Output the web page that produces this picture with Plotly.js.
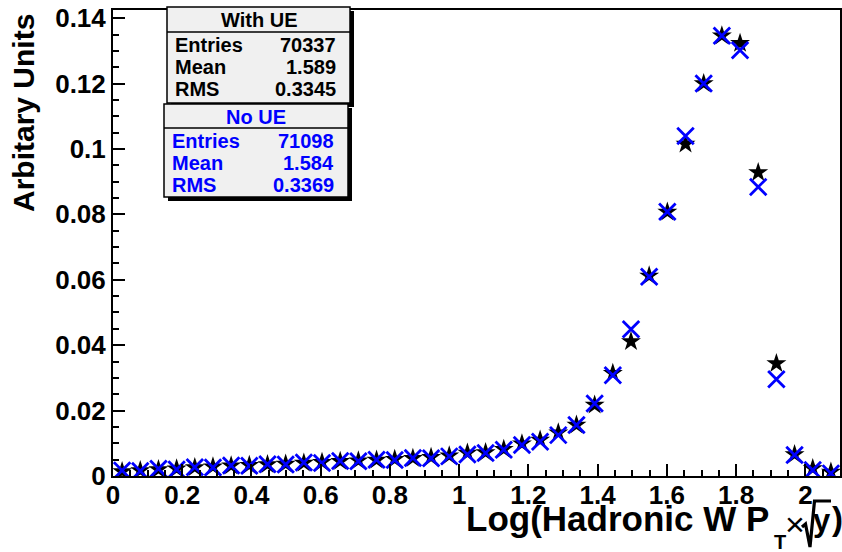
<!DOCTYPE html>
<html>
<head>
<meta charset="utf-8">
<script src="https://cdn.plot.ly/plotly-3.0.1.min.js"></script>
<style>html,body{margin:0;padding:0;background:#fff;}#plot{width:842px;height:552px;}</style>
</head>
<body>
<div id="plot"></div>
<script>
// Histogram binning: 40 bins on [0, 2.1]
const nBins = 40;
const xMin = 0, xMax = 2.1;
const binCenters = [];
for (let i = 0; i < nBins; i++) binCenters.push(xMin + (i + 0.5) * (xMax - xMin) / nBins);

// "With UE" (black stars)
const withUE = [0.0014, 0.0017, 0.0020, 0.0022, 0.0026, 0.0028, 0.0031, 0.0033, 0.0035, 0.0037,
                0.0040, 0.0042, 0.0045, 0.0047, 0.0049, 0.0051, 0.0054, 0.0057, 0.0062, 0.0070,
                0.0072, 0.0082, 0.0099, 0.0110, 0.0132, 0.0156, 0.0217, 0.0314, 0.0411, 0.0612,
                0.0807, 0.1015, 0.1200, 0.1346, 0.1323, 0.0928, 0.0344, 0.0066, 0.0023, 0.0012];
// "No UE" (blue crosses)
const noUE = [0.0017, 0.0015, 0.0022, 0.0020, 0.0027, 0.0026, 0.0032, 0.0031, 0.0036, 0.0035,
              0.0041, 0.0040, 0.0046, 0.0045, 0.0050, 0.0049, 0.0055, 0.0054, 0.0060, 0.0066,
              0.0070, 0.0080, 0.0095, 0.0105, 0.0125, 0.0156, 0.0222, 0.0308, 0.0449, 0.0609,
              0.0808, 0.1040, 0.1200, 0.1346, 0.1302, 0.0884, 0.0296, 0.0064, 0.0018, 0.0008];

// Stats boxes
const statNames = ['Entries', 'Mean', 'RMS'];
const statsWithUE = ['70337', '1.589', '0.3345'];
const statsNoUE = ['71098', '1.584', '0.3369'];

const FONT = 'Liberation Sans, Arial, Helvetica, sans-serif';
const L = 113, R = 2, T = 10, B = 76, W = 842 - L - R, H = 552 - T - B;
const P = px => (px - L) / W;
const Q = py => (T + H - py) / H;

const traces = [
  {x: binCenters, y: withUE, type: 'scatter', mode: 'markers', name: 'With UE',
   marker: {symbol: 'star', size: 15, color: '#000000', line: {width: 0}}},
  {x: binCenters, y: noUE, type: 'scatter', mode: 'markers', name: 'No UE',
   marker: {symbol: 'x-thin-open', size: 16.5, color: '#0000ff', line: {width: 2.8, color: '#0000ff'}}}
];

const shapes = [];
const annotations = [];
function txt(x, y, text, size, color, xanchor, weight, extra) {
  annotations.push(Object.assign({xref: 'paper', yref: 'paper', x: P(x), y: Q(y), text: text, showarrow: false,
    xanchor: xanchor, yanchor: 'middle', borderpad: 0,
    font: {family: FONT, size: size, color: color, weight: weight}}, extra || {}));
}
function statBox(x0, x1, yTop, ySep, yBot, title, values, color, rowYs) {
  shapes.push({type: 'rect', xref: 'paper', yref: 'paper', x0: P(x0 + 4), x1: P(x1 + 4), y0: Q(yBot + 4), y1: Q(yTop + 4),
               fillcolor: '#000000', line: {width: 0}});
  shapes.push({type: 'rect', xref: 'paper', yref: 'paper', x0: P(x0), x1: P(x1), y0: Q(yBot), y1: Q(yTop),
               fillcolor: '#f0f0f0', line: {width: 1.5, color: '#000000'}});
  shapes.push({type: 'line', xref: 'paper', yref: 'paper', x0: P(x0), x1: P(x1), y0: Q(ySep), y1: Q(ySep),
               line: {width: 1.5, color: '#000000'}});
  txt((x0 + x1) / 2, (yTop + ySep) / 2 + 0.5, title, 20, color, 'center', 'bold');
  statNames.forEach((n, i) => {
    txt(x0 + 7, rowYs[i], n, 20, color, 'left', 'bold');
    txt(x1 - 13, rowYs[i], values[i], 20, color, 'right', 'bold');
  });
}
statBox(167, 350, 7, 32, 103, 'With UE', statsWithUE, '#000000', [45, 67, 89]);
statBox(164, 348, 104, 128, 197, 'No UE', statsNoUE, '#0000ff', [141, 163, 185]);

// x-axis title built from pieces: Log(Hadronic W P_T x sqrt(y))
txt(770, 518, 'Log(Hadronic W P', 35, '#000000', 'right', 'bold');
txt(780, 542, 'T', 20, '#000000', 'center', 'bold');
txt(795, 524, '×', 34, '#000000', 'center', 'normal');
txt(822, 520, 'y', 31, '#000000', 'center', 'bold');
txt(837, 518, ')', 33, '#000000', 'center', 'bold');
shapes.push({type: 'path', xref: 'paper', yref: 'paper',
  path: 'M' + P(802) + ',' + Q(527) + ' L' + P(805.5) + ',' + Q(524) + ' L' + P(810) + ',' + Q(547) +
        ' L' + P(814.5) + ',' + Q(501) + ' L' + P(831) + ',' + Q(501),
  line: {width: 3.2, color: '#000000'}, fillcolor: 'rgba(0,0,0,0)'});

// y-axis title
annotations.push({xref: 'paper', yref: 'paper', x: P(23), y: Q(13), xanchor: 'center', yanchor: 'top',
  textangle: -90, showarrow: false, text: 'Arbitary Units', borderpad: 0,
  font: {family: FONT, size: 30, color: '#000000', weight: 'bold'}});

const axisCommon = {
  showgrid: false, zeroline: false, showline: true, mirror: true, linecolor: '#000000', linewidth: 2,
  ticks: 'inside', ticklen: 12, tickwidth: 2, tickcolor: '#000000',
  tickfont: {family: FONT, size: 26, color: '#000000', weight: 'bold'}
};

const layout = {
  width: 842, height: 552,
  margin: {l: L, r: R, t: T, b: B, pad: 0},
  paper_bgcolor: '#ffffff', plot_bgcolor: '#ffffff',
  showlegend: false,
  xaxis: Object.assign({}, axisCommon, {range: [xMin, xMax], dtick: 0.2, tick0: 0, ticklabelstandoff: -5,
    minor: {dtick: 0.05, ticklen: 6, tickwidth: 2, ticks: 'inside', tickcolor: '#000000', showgrid: false}}),
  yaxis: Object.assign({}, axisCommon, {range: [0, 0.1425], dtick: 0.02, tick0: 0,
    minor: {dtick: 0.005, ticklen: 6, tickwidth: 2, ticks: 'inside', tickcolor: '#000000', showgrid: false}}),
  shapes: shapes,
  annotations: annotations
};

Plotly.newPlot('plot', traces, layout, {displayModeBar: false, staticPlot: true});
</script>
</body>
</html>
